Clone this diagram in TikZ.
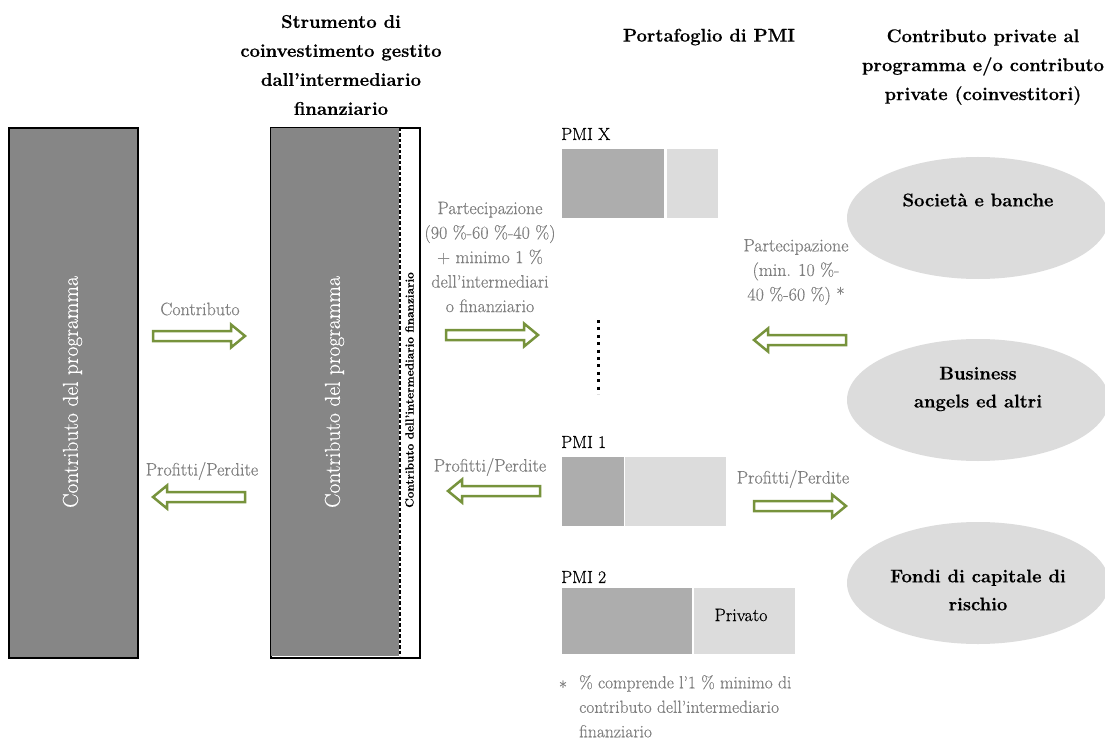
\documentclass[tikz,border=0pt]{standalone}
\usepackage{fontspec}
\setmainfont{Latin Modern Roman}[FakeBold=0.5]
\usetikzlibrary{shapes.geometric}
\definecolor{boxgray}{RGB}{134,134,134}
\definecolor{pmidark}{RGB}{173,173,173}
\definecolor{pmilight}{RGB}{220,220,220}
\definecolor{ellfill}{RGB}{220,220,220}
\definecolor{tgray}{RGB}{128,128,128}
\definecolor{agreen}{RGB}{119,147,60}
\newcommand\fsz[2]{\fontsize{#1}{#2}\selectfont}
\tikzset{
  hdr/.style={font=\bfseries\fsz{18.4}{29}, align=center, inner sep=0},
  graytxt/.style={text=tgray, font=\fsz{18}{24.5}, align=center, inner sep=0},
  pmilabel/.style={font=\fsz{17.5}{20}, anchor=west, inner sep=0},
  fund/.style={draw=black, line width=2, fill=boxgray, minimum height=530, inner sep=0, anchor=north west},
  bar/.style={minimum height=#1, inner sep=0, anchor=north west},
  ellbox/.style={ellipse, fill=ellfill, minimum width=262, minimum height=122, inner sep=0},
  elltxt/.style={font=\bfseries\fsz{18.4}{28}, align=center, inner sep=0},
  arrowline/.style={draw=agreen, line width=2.5, fill=white, line join=miter},
  fatarrow/.pic={\draw[arrowline] (0,-5) -- (78,-5) -- (78,-11.5) -- (92,0) -- (78,11.5) -- (78,5) -- (0,5) -- cycle;}
}
\begin{document}
\begin{tikzpicture}[x=1pt,y=-1pt]
\path[use as bounding box, clip] (0,0) rectangle (1105,743);
\fill[white] (0,0) rectangle (1105,743);

% column headers
\node[hdr] (hStrum) at (341,65) {Strumento di\\coinvestimento gestito\\dall'intermediario\\finanziario};
\node[hdr] (hPort) at (709,37) {Portafoglio di PMI};
\node[hdr] (hPriv) at (983,67) {Contributo private al\\programma e/o contributo\\private (coinvestitori)};

% programme contribution
\node[fund, minimum width=129] (prog) at (8,127) {};
\node[rotate=90, text=white, font=\fsz{21.5}{24}] (progT) at (72.5,392) {Contributo del programma};

% co-investment instrument with the intermediary's strip
\node[fund, minimum width=149, fill=white] (instr) at (270,127) {};
\fill[boxgray] (271,128) rectangle (399,656);
\draw[black, line width=2, dash pattern=on 3.5pt off 2pt] (399.5,128) -- (399.5,656);
\node[rotate=90, text=white, font=\fsz{21.5}{24}] (instrT) at (334.5,392) {Contributo del programma};
\node[rotate=90, font=\bfseries\fsz{11.8}{14}, inner sep=0] (stripT) at (409.5,390) {Contributo dell'intermediario finanziario};

% flows between programme and instrument
\node[graytxt] (lContr) at (200,309) {Contributo};
\pic at (153,336) {fatarrow};
\node[graytxt] (lPL1) at (202,471) {Profitti/Perdite};
\pic[xscale=-1] at (245,497) {fatarrow};

% flows between instrument and SMEs
\node[graytxt] (lPart) at (490,257) {Partecipazione\\(90~\%-60~\%-40~\%)\\+ minimo 1~\%\\dell'intermediari\\o finanziario};
\pic at (446,335) {fatarrow};
\node[graytxt] (lPL2) at (490,467) {Profitti/Perdite};
\pic[xscale=-1] at (540,491) {fatarrow};

% SME portfolio
\node[pmilabel] (pmiX) at (561,134) {PMI X};
\node[bar=69, fill=pmidark, minimum width=102] (xA) at (562,149) {};
\node[bar=69, fill=pmilight, minimum width=51] (xB) at (667,149) {};
\draw[line width=3, dash pattern=on 3pt off 4.4pt] (598.5,320) -- (598.5,394);
\node[pmilabel] (pmi1) at (561,442) {PMI 1};
\node[bar=69, fill=pmidark, minimum width=62] (oA) at (562,457) {};
\node[bar=69, fill=pmilight, minimum width=101] (oB) at (625,457) {};
\node[pmilabel] (pmi2) at (561,577) {PMI 2};
\node[bar=66, fill=pmidark, minimum width=130] (tA) at (562,588) {};
\node[bar=66, fill=pmilight, minimum width=101] (tB) at (694,588) {};
\node[font=\fsz{18}{20}, inner sep=0] (priv) at (741,615) {Privato};

% footnote
\node[text=tgray, font=\fsz{17.5}{20}, inner sep=0] (star) at (563,687) {*};
\node[text=tgray, font=\fsz{17.5}{24.5}, align=left, anchor=north west, inner sep=0] (note) at (579,675) {\%~comprende l'1~\% minimo di\\contributo dell'intermediario\\finanziario};

% flows between private co-investors and SMEs
\node[graytxt] (lPart2) at (796,272) {Partecipazione\\(min. 10~\%-\\40~\%-60~\%) *};
\pic[xscale=-1] at (846,340) {fatarrow};
\node[graytxt] (lPL3) at (793,479) {Profitti/Perdite};
\pic at (754,506) {fatarrow};

% private co-investors
\node[ellbox] (e1) at (978,218) {};
\node[elltxt] (e1T) at (978,200) {Società e banche};
\node[ellbox] (e2) at (978,400) {};
\node[elltxt] (e2T) at (978,389) {Business\\angels ed altri};
\node[ellbox] (e3) at (978,583) {};
\node[elltxt] (e3T) at (978,590) {Fondi di capitale di\\rischio};
\end{tikzpicture}
\end{document}
